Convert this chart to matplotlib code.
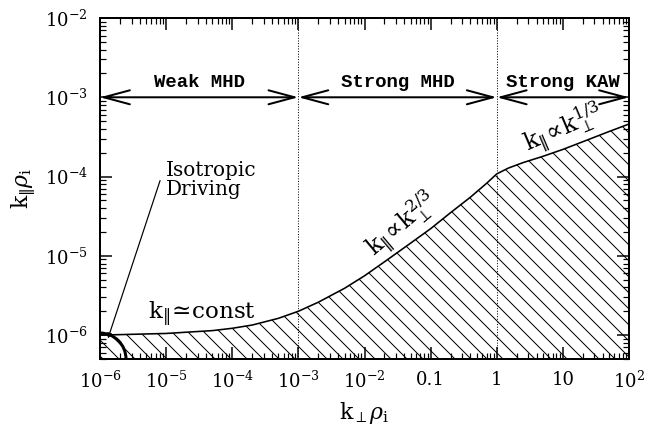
import numpy as np
import matplotlib
matplotlib.use('Agg')
import matplotlib.pyplot as plt
from matplotlib.patches import FancyArrowPatch, Arc, ArrowStyle
from matplotlib.transforms import ScaledTranslation

#%% data
kperp = [1e-6, 1e-5, 5e-5, 1e-4, 2e-4, 5e-4, 1e-3, 2e-3, 5e-3, 1e-2, 2e-2,
         5e-2, 0.1, 0.2, 0.4, 0.7, 1.0, 1.5, 2.5, 5.0, 10.0, 20.0, 50.0, 100.0]
kpar = [1.0e-6, 1.05e-6, 1.14e-6, 1.22e-6, 1.34e-6, 1.63e-6, 2.0e-6, 2.6e-6,
        3.9e-6, 5.6e-6, 8.4e-6, 1.45e-5, 2.2e-5, 3.5e-5, 5.5e-5, 8.2e-5,
        1.08e-4, 1.28e-4, 1.5e-4, 1.8e-4, 2.2e-4, 2.75e-4, 3.7e-4, 4.6e-4]

xlim = (1e-6, 1e2)
ylim = (5e-7, 1e-2)
xticks = [1e-6, 1e-5, 1e-4, 1e-3, 1e-2, 0.1, 1, 10, 1e2]
xticklabels = [r'$10^{-6}$', r'$10^{-5}$', r'$10^{-4}$', r'$10^{-3}$',
               r'$10^{-2}$', '0.1', '1', '10', r'$10^{2}$']
yticks = [1e-6, 1e-5, 1e-4, 1e-3, 1e-2]
yticklabels = [r'$10^{-6}$', r'$10^{-5}$', r'$10^{-4}$', r'$10^{-3}$',
               r'$10^{-2}$']

# regime boundaries and names
bounds = [1e-6, 1e-3, 1.0, 1e2]
regimes = ['Weak MHD', 'Strong MHD', 'Strong KAW']
regime_y = 1e-3

#%% style
DPI = 96
def px(v):
    # pixel size -> points
    return v * 72 / DPI

plt.rcParams['font.family'] = 'DejaVu Serif'
plt.rcParams['mathtext.fontset'] = 'dejavuserif'
plt.rcParams['hatch.linewidth'] = px(1.0)

fig = plt.figure(figsize=(648/DPI, 430/DPI), dpi=DPI)
ax = fig.add_axes([100/648, 71/430, 529/648, 341/430])
ax.set_xscale('log')
ax.set_yscale('log')
ax.set_xlim(*xlim)
ax.set_ylim(*ylim)

# hatched region below the curve
ax.fill_between(kperp, ylim[0], kpar, facecolor='none', edgecolor='k',
                hatch='\\\\', linewidth=0)
ax.plot(kperp, kpar, color='k', lw=px(1.6))

# regime boundaries
for b in bounds[1:-1]:
    ax.axvline(b, color='k', ls=':', lw=px(1))

# regime arrows and names
for i, name in enumerate(regimes):
    a, b = bounds[i], bounds[i + 1]
    arr = FancyArrowPatch((a, regime_y), (b, regime_y),
                          arrowstyle=ArrowStyle('<->', head_length=px(26), head_width=px(7)),
                          mutation_scale=1, shrinkA=0, shrinkB=0, lw=px(2), color='k')
    ax.add_patch(arr)
    ax.text(np.sqrt(a * b), 1.2e-3, name, ha='center', va='bottom',
            family='Liberation Mono', weight='bold', fontsize=px(19))

# isotropic driving arc
trans = fig.dpi_scale_trans + ScaledTranslation(xlim[0], ylim[0], ax.transData)
ax.add_patch(Arc((0, 0), 52/DPI, 52/DPI, theta1=0, theta2=90, transform=trans,
                 lw=px(3), color='k', clip_on=False))
ax.annotate('', xy=(1.32e-6, 9.1e-7), xytext=(8.1e-6, 8.9e-5),
            arrowprops=dict(arrowstyle='-|>', color='k', lw=px(1.2),
                            mutation_scale=px(10), shrinkA=0, shrinkB=0))
ax.text(1.0e-5, 5.9e-5, 'Isotropic\nDriving', ha='left', va='baseline',
        fontsize=px(20), linespacing=0.95)

# scaling labels
ax.text(10**-4.46, 1.63e-6, r'$\mathrm{k}_{\Vert}\!\simeq\!\mathrm{const}$',
        ha='center', va='baseline', fontsize=px(23))
ax.text(0.036, 2.5e-5, r'$\mathrm{k}_{\Vert}\!\propto\!\mathrm{k}_{\perp}^{2/3}$',
        ha='center', va='center', fontsize=px(24), rotation=40,
        rotation_mode='anchor')
ax.text(10.0, 4.1e-4, r'$\mathrm{k}_{\Vert}\!\propto\!\mathrm{k}_{\perp}^{1/3}$',
        ha='center', va='center', fontsize=px(24), rotation=23,
        rotation_mode='anchor')

# axes, ticks, labels
ax.set_xticks(xticks)
ax.set_xticklabels(xticklabels)
ax.set_yticks(yticks)
ax.set_yticklabels(yticklabels)
ax.xaxis.set_minor_locator(matplotlib.ticker.LogLocator(base=10, subs=np.arange(2, 10), numticks=20))
ax.yaxis.set_minor_locator(matplotlib.ticker.LogLocator(base=10, subs=np.arange(2, 10), numticks=20))
ax.xaxis.set_minor_formatter(matplotlib.ticker.NullFormatter())
ax.yaxis.set_minor_formatter(matplotlib.ticker.NullFormatter())
ax.tick_params(which='both', direction='in', top=True, right=True,
               labelsize=px(18), pad=px(12))
ax.tick_params(which='major', length=px(12), width=px(1.5))
ax.tick_params(which='minor', length=px(6), width=px(1.2))
for s in ax.spines.values():
    s.set_linewidth(px(2))

ax.set_xlabel(r'$\mathrm{k}_{\perp}\rho_{\mathrm{i}}$', fontsize=px(22), labelpad=px(8))
ax.set_ylabel(r'$\mathrm{k}_{\Vert}\rho_{\mathrm{i}}$', fontsize=px(22), labelpad=px(7))

fig.savefig('out.png', dpi=DPI)
